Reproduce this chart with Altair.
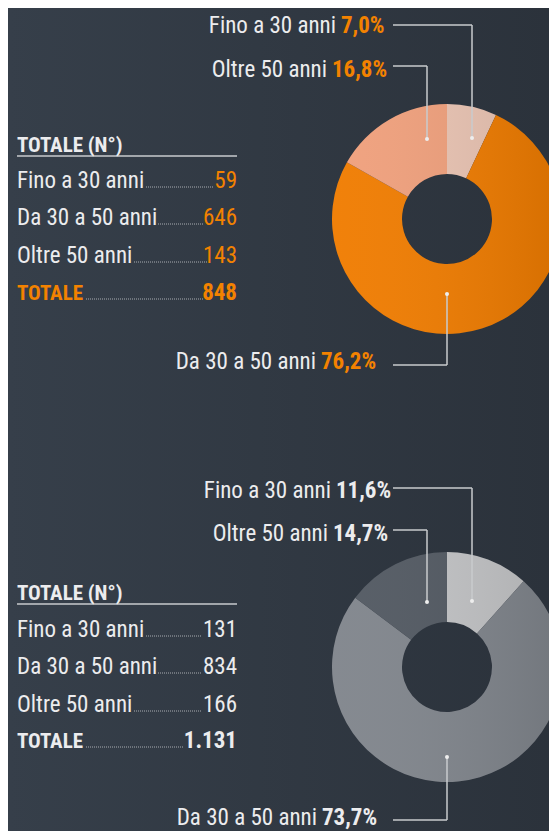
import math
import altair as alt
import pandas as pd

# ---------------- data ----------------
categories = ["Fino a 30 anni", "Da 30 a 50 anni", "Oltre 50 anni"]
counts_a = [59, 646, 143]
total_a = 848
pct_a = [7.0, 76.2, 16.8]
counts_b = [131, 834, 166]
total_b = 1131
pct_b = [11.6, 73.7, 14.7]

colors_a = ["#eac4b3", "#f07c00", "#f0a07c"]
colors_b = ["#c2c3c5", "#80858c", "#525962"]

# ---------------- style / layout ----------------
W, H = 541, 823
OFF = 8          # page margin: layout below is in page pixels
FONT = "Roboto Condensed"
FS = 23
FS_B = 21
ORANGE = "#f38200"
WHITE = "#ececee"
LINE = "#c9cbce"
R_OUT, R_IN = 115, 45


def fmt_pct(p):
    return f"{p:.1f}".replace(".", ",") + "%"


def fmt_int(n):
    return f"{n:,}".replace(",", ".")


texts, rules, dots, dotted = [], [], [], []


def T(x, y, text, color, weight="normal", align="left", size=FS):
    texts.append(dict(x=x - OFF, y=y - OFF, text=text, color=color,
                      weight=weight, align=align, size=size))


def L(x, y, x2, y2, store=rules):
    store.append(dict(x=x - OFF, y=y - OFF, x2=x2 - OFF, y2=y2 - OFF))


panels = [
    dict(pcts=pct_a, counts=counts_a, total=total_a, colors=colors_a,
         center=(447, 219), pctcol=ORANGE, valcol=ORANGE, totcol=ORANGE,
         # per category: (label baseline, pct start x, line y, vertical x, dot y)
         labels=[(33, 341, 25, 472, 138), (369, 321, 365, 447, 294), (77, 332, 66, 427, 139)],
         table_top=152, rows=[188, 225, 263, 300],
         leaders=[(146, 214), (158, 203), (134, 207), (86, 203)]),
    dict(pcts=pct_b, counts=counts_b, total=total_b, colors=colors_b,
         center=(447, 667), pctcol=WHITE, valcol=WHITE, totcol=WHITE,
         labels=[(498, 336, 488, 472, 601), (825, 322, 820, 447, 757), (541, 333, 530, 427, 602)],
         table_top=600, rows=[637, 674, 712, 748],
         leaders=[(146, 202), (158, 201), (134, 202), (86, 184)]),
]

layers = []

# background gradient
bg = alt.Chart(pd.DataFrame({"k": [0]})).mark_rect(
    fill=alt.LinearGradient(gradient="linear",
                            stops=[alt.GradientStop(offset=0, color="#363f4a"),
                                   alt.GradientStop(offset=1, color="#2b323b")],
                            x1=0, x2=1, y1=0, y2=0)
).encode(x=alt.value(0), x2=alt.value(W), y=alt.value(0), y2=alt.value(H))
layers.append(bg)

for p in panels:
    cx, cy = p["center"]
    df = pd.DataFrame({"cat": categories, "pct": p["pcts"], "ord": [0, 1, 2]})
    arc = alt.Chart(df).mark_arc(innerRadius=R_IN, outerRadius=R_OUT).encode(
        theta=alt.Theta("pct:Q", stack=True, scale=alt.Scale(domain=[0, 100])),
        order=alt.Order("ord:Q"),
        color=alt.Color("cat:N", scale=alt.Scale(domain=categories, range=p["colors"]), legend=None),
        x=alt.value(cx - OFF), y=alt.value(cy - OFF),
    )
    shade = alt.Chart(pd.DataFrame({"k": [0]})).mark_arc(
        innerRadius=R_IN, outerRadius=R_OUT,
        fill=alt.LinearGradient(gradient="linear",
                                stops=[alt.GradientStop(offset=0, color="rgba(255,255,255,0.04)"),
                                       alt.GradientStop(offset=1, color="rgba(0,0,0,0.11)")],
                                x1=0, x2=1, y1=0, y2=0)
    ).encode(x=alt.value(cx - OFF), y=alt.value(cy - OFF),
             theta=alt.value(0), theta2=alt.value(2 * math.pi))
    layers += [arc, shade]

    # callout labels
    for cat, pc, (by, px0, ly, vx, dy) in zip(categories, p["pcts"], p["labels"]):
        T(px0 - 5, by, cat, WHITE, align="right")
        T(px0, by, fmt_pct(pc), p["pctcol"], weight="bold", align="left")
        L(393, ly, vx, ly)
        L(vx, ly, vx, dy)
        dots.append(dict(x=vx - OFF, y=dy - OFF))

    # table
    T(17, p["table_top"], "TOTALE  (N°)", WHITE, weight="bold", size=FS_B)
    L(17, p["table_top"] + 4, 237, p["table_top"] + 4)
    row_labels = categories + ["TOTALE"]
    row_vals = p["counts"] + [p["total"]]
    for i, (lab, val, ry, (lx0, lx1)) in enumerate(zip(row_labels, row_vals, p["rows"], p["leaders"])):
        is_tot = i == 3
        T(17, ry, lab, p["totcol"] if is_tot else WHITE,
          weight="bold" if is_tot else "normal", size=FS_B if is_tot else FS)
        T(237, ry, fmt_int(val), p["valcol"], weight="bold" if is_tot else "normal", align="right")
        L(lx0, ry - 1, lx1, ry - 1, store=dotted)

xy = dict(x=alt.X("x:Q", scale=None, axis=None), y=alt.Y("y:Q", scale=None, axis=None))
xy2 = dict(x2="x2:Q", y2="y2:Q")

layers.append(alt.Chart(pd.DataFrame(rules)).mark_rule(color=LINE, strokeWidth=1.5).encode(**xy, **xy2))
layers.append(alt.Chart(pd.DataFrame(dotted)).mark_rule(color="#a9adb2", strokeWidth=1, strokeDash=[1, 1]).encode(**xy, **xy2))
layers.append(alt.Chart(pd.DataFrame(dots)).mark_circle(size=16, color="#eeeeee", opacity=1).encode(**xy))

tdf = pd.DataFrame(texts)
for (al, wt), g in tdf.groupby(["align", "weight"]):
    layers.append(
        alt.Chart(g).mark_text(align=al, baseline="alphabetic", font=FONT, fontWeight=wt).encode(
            **xy, text="text:N",
            color=alt.Color("color:N", scale=None),
            size=alt.Size("size:Q", scale=None),
        )
    )

chart = alt.layer(*layers).resolve_scale(color="independent").properties(
    width=W, height=H,
    autosize=alt.AutoSizeParams(type="fit", contains="padding"),
    padding=0,
).configure_view(stroke=None).configure(background="#313943")

chart.save("out.html", embed_options={"renderer": "svg", "actions": False})
